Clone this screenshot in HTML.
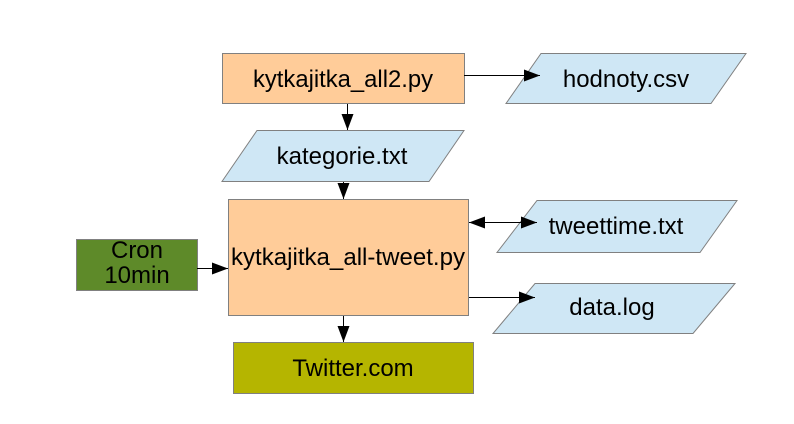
<!DOCTYPE html>
<html><head><meta charset="utf-8"><style>
html,body{margin:0;padding:0;background:#fff;width:794px;height:424px;overflow:hidden}
</style></head><body>
<svg width="794" height="424" viewBox="0 0 794 424" xmlns="http://www.w3.org/2000/svg" font-family="Liberation Sans, sans-serif" font-size="24">
<defs><marker id="a" markerWidth="16" markerHeight="12" refX="16" refY="6" orient="auto" markerUnits="userSpaceOnUse"><path d="M0,0 L16,6 L0,12 Z" fill="#000"/></marker>
<marker id="b" markerWidth="16" markerHeight="12" refX="0" refY="6" orient="auto" markerUnits="userSpaceOnUse"><path d="M16,0 L0,6 L16,12 Z" fill="#000"/></marker></defs>
<g stroke="#808080" stroke-width="1">
<rect x="222.5" y="53.5" width="242" height="50" fill="#ffcc99"/>
<polygon points="541,53.5 746,53.5 711,103.5 506,103.5" fill="#cfe7f5"/>
<polygon points="257,130.5 464,130.5 429,181.5 222,181.5" fill="#cfe7f5"/>
<rect x="228.5" y="199.5" width="240" height="116" fill="#ffcc99"/>
<rect x="76.5" y="239.5" width="121" height="51" fill="#5e8a29"/>
<polygon points="537,200.5 737,200.5 700,252.5 497,252.5" fill="#cfe7f5"/>
<polygon points="535,283.5 735,283.5 693,333.5 493,333.5" fill="#cfe7f5"/>
<rect x="233.5" y="342.5" width="240" height="51" fill="#b5b500"/>
</g>
<g stroke="#000" stroke-width="1" fill="none">
<line x1="464" y1="75.5" x2="540" y2="75.5" marker-end="url(#a)"/>
<line x1="347.5" y1="104" x2="347.5" y2="130" marker-end="url(#a)"/>
<line x1="343.5" y1="182" x2="343.5" y2="199" marker-end="url(#a)"/>
<line x1="197" y1="268.5" x2="228" y2="268.5" marker-end="url(#a)"/>
<line x1="469" y1="222.5" x2="537" y2="222.5" marker-start="url(#b)" marker-end="url(#a)"/>
<line x1="469" y1="297.5" x2="535" y2="297.5" marker-end="url(#a)"/>
<line x1="343.5" y1="316" x2="343.5" y2="342" marker-end="url(#a)"/>
</g>
<g fill="#000" text-anchor="middle">
<text x="343" y="87" textLength="180" lengthAdjust="spacingAndGlyphs">kytkajitka_all2.py</text>
<text x="626" y="87">hodnoty.csv</text>
<text x="342" y="164">kategorie.txt</text>
<text x="348" y="265" textLength="234" lengthAdjust="spacingAndGlyphs">kytkajitka_all-tweet.py</text>
<text x="137" y="258">Cron</text>
<text x="137" y="283">10min</text>
<text x="616" y="234">tweettime.txt</text>
<text x="612" y="315">data.log</text>
<text x="353" y="376">Twitter.com</text>
</g>
</svg>
</body></html>
